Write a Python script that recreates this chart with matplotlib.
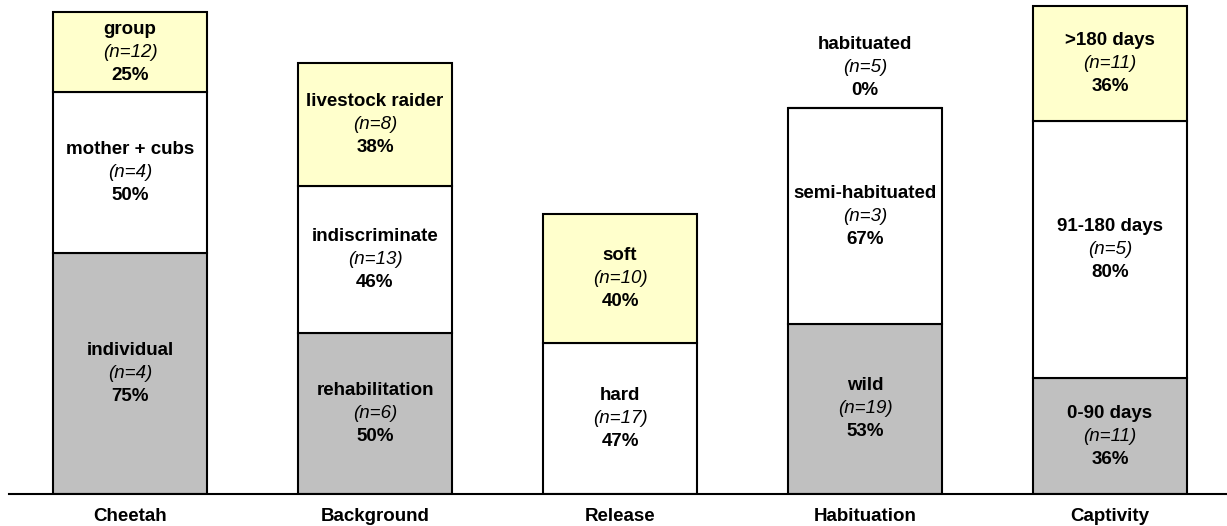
import matplotlib.pyplot as plt
import numpy as np

plt.rcParams['font.family'] = ['Liberation Sans', 'DejaVu Sans']

# data: each bar is a stack of success rates (%) from bottom to top
groups = ['Cheetah', 'Background', 'Release', 'Habituation', 'Captivity']
seg_names = [
    ['individual', 'mother + cubs', 'group'],
    ['rehabilitation', 'indiscriminate', 'livestock raider'],
    ['hard', 'soft'],
    ['wild', 'semi-habituated', 'habituated'],
    ['0-90 days', '91-180 days', '>180 days'],
]
seg_n = [
    [4, 4, 12],
    [6, 13, 8],
    [17, 10],
    [19, 3, 5],
    [11, 5, 11],
]
seg_pct = [
    [75, 50, 25],
    [50, 46, 38],
    [47, 40],
    [53, 67, 0],
    [36, 80, 36],
]

GREY = '#c0c0c0'
WHITE = '#ffffff'
YELLOW = '#ffffcc'
fills = [
    [GREY, WHITE, YELLOW],
    [GREY, WHITE, YELLOW],
    [WHITE, YELLOW],
    [GREY, WHITE, YELLOW],
    [GREY, WHITE, YELLOW],
]

fig = plt.figure(figsize=(12.27, 5.26), dpi=100)
ax = fig.add_axes([9 / 1227, 32 / 526, 1 - 9 / 1227, 494 / 526])

x = np.arange(len(groups))
width = 0.63
fs = 13.5
step = 16.6  # line spacing in points

for i in range(len(groups)):
    bottom = 0
    for name, n, pct, col in zip(seg_names[i], seg_n[i], seg_pct[i], fills[i]):
        ax.bar(x[i], pct, width, bottom=bottom, color=col,
               edgecolor='black', linewidth=1.5, zorder=2)
        if pct > 0:
            yc = bottom + pct / 2
            offs = [step, 0, -step]
        else:
            # empty segment: put the label above the bar
            yc = bottom
            offs = [step * 2 + 13, step + 13, 13]
        lines = [(name, 'bold', 'normal'),
                 (f'(n={n})', 'normal', 'italic'),
                 (f'{pct}%', 'bold', 'normal')]
        for (txt, wt, st), dy in zip(lines, offs):
            ax.annotate(txt, (x[i], yc), xytext=(0, dy),
                        textcoords='offset points', ha='center', va='center',
                        fontsize=fs, fontweight=wt, fontstyle=st, zorder=3)
        bottom += pct

ax.set_xlim((9 - 130) / 245, (1227 - 130) / 245)
ax.set_ylim(0, 494 / 3.213)
ax.set_xticks(x)
ax.set_xticklabels(groups, fontsize=fs, fontweight='bold')
ax.tick_params(axis='x', length=0, pad=10)
ax.set_yticks([])
for s in ['top', 'right', 'left']:
    ax.spines[s].set_visible(False)
ax.spines['bottom'].set_linewidth(1.5)
ax.spines['bottom'].set_zorder(4)

fig.savefig('out.png', dpi=100)
